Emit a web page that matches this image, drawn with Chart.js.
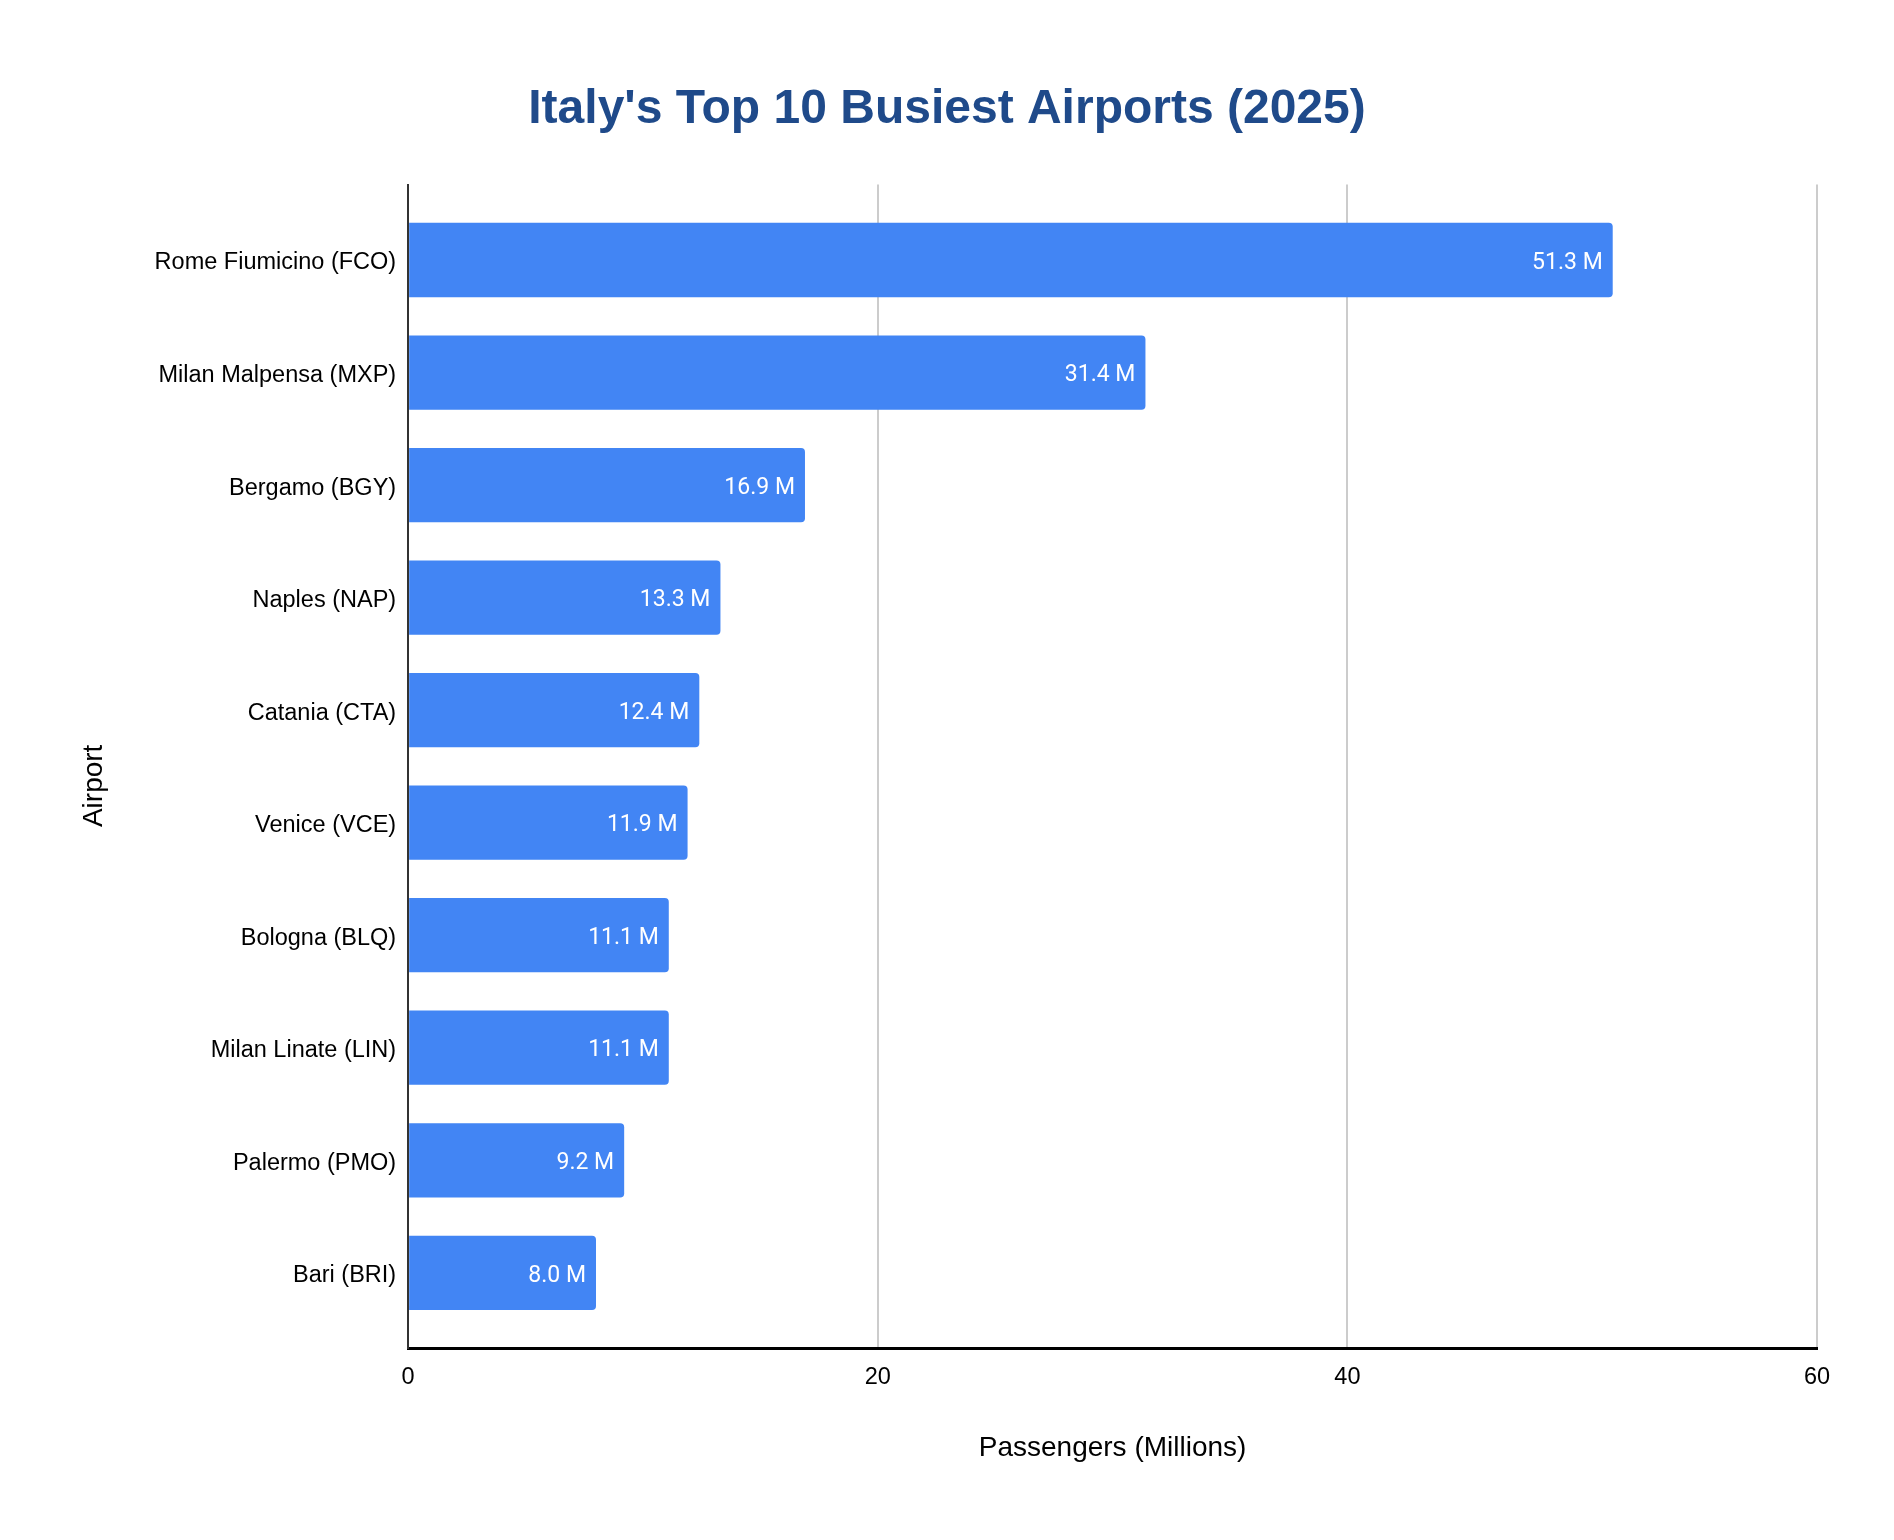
<!DOCTYPE html>
<html>
<head>
<meta charset="utf-8">
<script src="https://cdn.jsdelivr.net/npm/chart.js@4/dist/chart.umd.min.js"></script>
<style>
  html, body { margin: 0; padding: 0; background: #ffffff; }
  #wrap { width: 1894px; height: 1540px; }
</style>
</head>
<body>
<div id="wrap"><canvas id="airports"></canvas></div>
<script>
const airports = [
  "Rome Fiumicino (FCO)",
  "Milan Malpensa (MXP)",
  "Bergamo (BGY)",
  "Naples (NAP)",
  "Catania (CTA)",
  "Venice (VCE)",
  "Bologna (BLQ)",
  "Milan Linate (LIN)",
  "Palermo (PMO)",
  "Bari (BRI)",
];
const passengers = [51.3, 31.4, 16.9, 13.3, 12.4, 11.9, 11.1, 11.1, 9.2, 8.0];
const xTicks = [0, 20, 40, 60];

// white "xx.x M" labels inside the end of each bar
const barLabels = {
  id: "barLabels",
  afterDatasetsDraw(chart) {
    const ctx = chart.ctx;
    const meta = chart.getDatasetMeta(0);
    ctx.save();
    ctx.fillStyle = "#ffffff";
    ctx.font = "23px Roboto";
    ctx.textAlign = "right";
    ctx.textBaseline = "middle";
    meta.data.forEach((bar, i) => {
      ctx.fillText(passengers[i].toFixed(1) + " M", bar.x - 10, bar.y + 3);
    });
    ctx.restore();
  },
};

window.addEventListener("load", () => {
  drawChart();
});

function drawChart() {
  new Chart(document.getElementById("airports"), {
    type: "bar",
    data: {
      datasets: [
        {
          data: passengers.map((v, i) => ({ x: v, y: i })),
          backgroundColor: "#4285F4",
          borderRadius: 4,
          barPercentage: 0.66,
          categoryPercentage: 1,
        },
      ],
    },
    options: {
      indexAxis: "y",
      responsive: true,
      maintainAspectRatio: false,
      animation: false,
      layout: { padding: { left: 77, right: 77, top: 0, bottom: 65 } },
      plugins: {
        legend: { display: false },
        tooltip: { enabled: false },
        title: {
          display: true,
          text: "Italy's Top 10 Busiest Airports (2025)",
          color: "#1F4A8A",
          font: { family: "Liberation Sans", size: 48, weight: "bold" },
          padding: { top: 81, bottom: 46 },
        },
      },
      scales: {
        x: {
          type: "linear",
          min: xTicks[0],
          max: xTicks[xTicks.length - 1],
          grid: { color: "#cccccc", lineWidth: 2, drawTicks: false },
          border: { display: true, color: "#000000", width: 3 },
          ticks: {
            stepSize: xTicks[1] - xTicks[0],
            color: "#000000",
            font: { family: "Liberation Sans", size: 23.5 },
            padding: 15,
          },
          title: {
            display: true,
            text: "Passengers (Millions)",
            color: "#000000",
            font: { family: "Liberation Sans", size: 28 },
            padding: { top: 25, bottom: 10 },
          },
        },
        y: {
          type: "linear",
          reverse: true,
          bounds: "data",
          offset: false,
          min: -0.67,
          max: airports.length - 0.33,
          afterBuildTicks: (scale) => {
            scale.ticks = airports.map((name, i) => ({ value: i }));
          },
          grid: { display: false, drawTicks: false },
          border: { display: true, color: "#333333", width: 2 },
          ticks: {
            autoSkip: false,
            color: "#000000",
            font: { family: "Liberation Sans", size: 23.5 },
            padding: 12,
            labelOffset: 3,
            callback: (value) => airports[value],
          },
          title: {
            display: true,
            // trailing spaces nudge the rotated title a little below centre
            text: "Airport     ",
            color: "#000000",
            font: { family: "Liberation Sans", size: 28 },
            padding: { top: 0, bottom: 32 },
          },
        },
      },
    },
    plugins: [barLabels],
  });
}
</script>
</body>
</html>
